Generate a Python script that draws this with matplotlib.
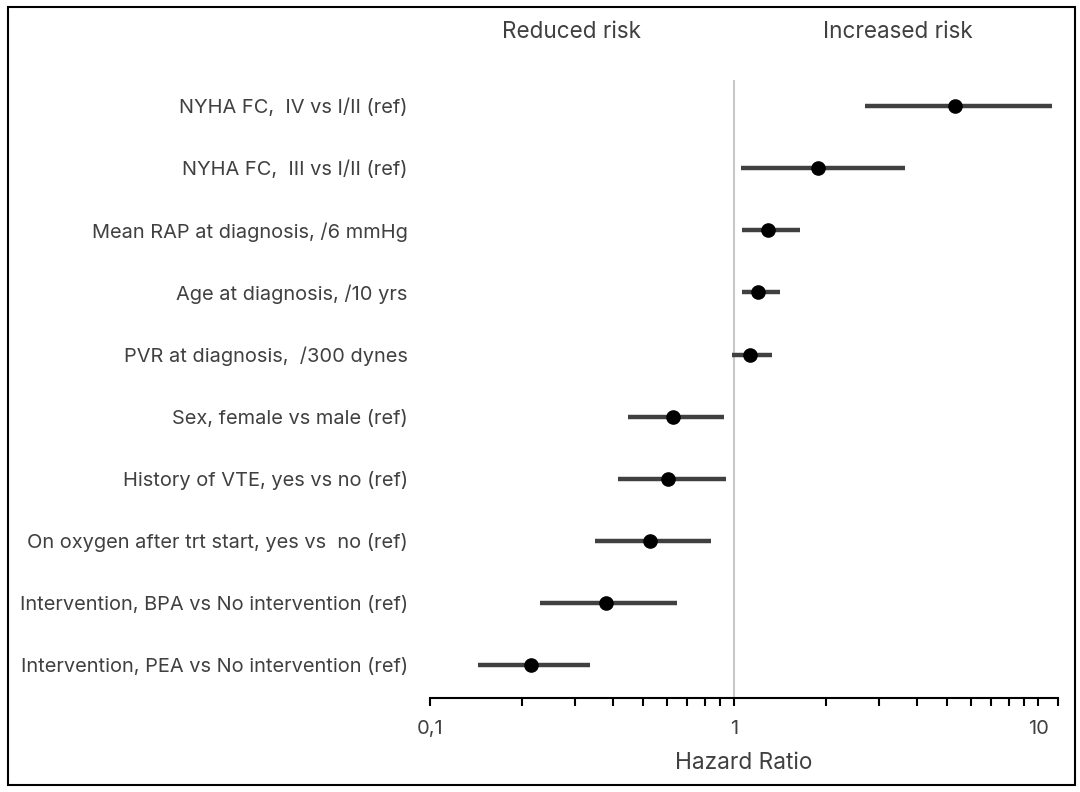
import matplotlib
matplotlib.use("Agg")
from matplotlib import pyplot as plt
from matplotlib.patches import Rectangle
from matplotlib.ticker import FixedLocator, NullFormatter

labels = ["NYHA FC,  IV vs I/II (ref)",
          "NYHA FC,  III vs I/II (ref)",
          "Mean RAP at diagnosis, /6 mmHg",
          "Age at diagnosis, /10 yrs",
          "PVR at diagnosis,  /300 dynes",
          "Sex, female vs male (ref)",
          "History of VTE, yes vs no (ref)",
          "On oxygen after trt start, yes vs  no (ref)",
          "Intervention, BPA vs No intervention (ref)",
          "Intervention, PEA vs No intervention (ref)"]
hr = [5.33, 1.89, 1.29, 1.20, 1.13, 0.63, 0.605, 0.53, 0.379, 0.215]
ci_low = [2.70, 1.05, 1.06, 1.06, 0.985, 0.447, 0.414, 0.349, 0.23, 0.144]
ci_high = [11.1, 3.65, 1.65, 1.41, 1.33, 0.927, 0.941, 0.84, 0.648, 0.336]
major_ticks = [0.1, 1, 10]
major_labels = ["0,1", "1", "10"]

plt.rcParams['font.family'] = ['Inter', 'DejaVu Sans']
txt = '#404040'

fig = plt.figure(figsize=(10.8, 7.92), dpi=100)
ax = fig.add_axes([430/1080, 94/792, 628/1080, 618/792])

ypos = list(range(len(labels)))
ax.axvline(1, color='#c8c8c8', lw=1.5, zorder=1)
ax.hlines(ypos, ci_low, ci_high, color='#404040', lw=3.2, zorder=2)
ax.plot(hr, ypos, 'o', color='black', markersize=9.5, zorder=3)

ax.set_xscale('log')
ax.set_xlim(0.1, 11.6)
ax.set_ylim(9.53, -0.42)

ax.set_yticks(ypos)
ax.set_yticklabels(labels, fontsize=14.4, color=txt)
ax.tick_params(axis='y', length=0, pad=16)

ax.xaxis.set_major_locator(FixedLocator(major_ticks))
ax.set_xticklabels(major_labels, fontsize=14.5, color=txt)
minors = [m * d for d in (0.1, 1) for m in range(2, 10)] + [11.6]
ax.xaxis.set_minor_locator(FixedLocator(minors))
ax.xaxis.set_minor_formatter(NullFormatter())
ax.tick_params(axis='x', which='both', direction='out', length=6, width=1.5,
               color='black', pad=10)
ax.set_xlabel("Hazard Ratio", fontsize=16.3, color=txt, labelpad=10)

for s in ['top', 'right', 'left']:
    ax.spines[s].set_visible(False)
ax.spines['bottom'].set_linewidth(1.5)

fig.text(571/1080, 1 - 32/792, "Reduced risk", ha='center', va='center',
         fontsize=16.2, color=txt)
fig.text(898/1080, 1 - 32/792, "Increased risk", ha='center', va='center',
         fontsize=16.2, color=txt)

fig.patches.append(Rectangle((8/1080, 7/792), 1067/1080, 778/792,
                             transform=fig.transFigure, fill=False,
                             edgecolor='black', lw=1.5))

plt.savefig('out.png', dpi=100)
